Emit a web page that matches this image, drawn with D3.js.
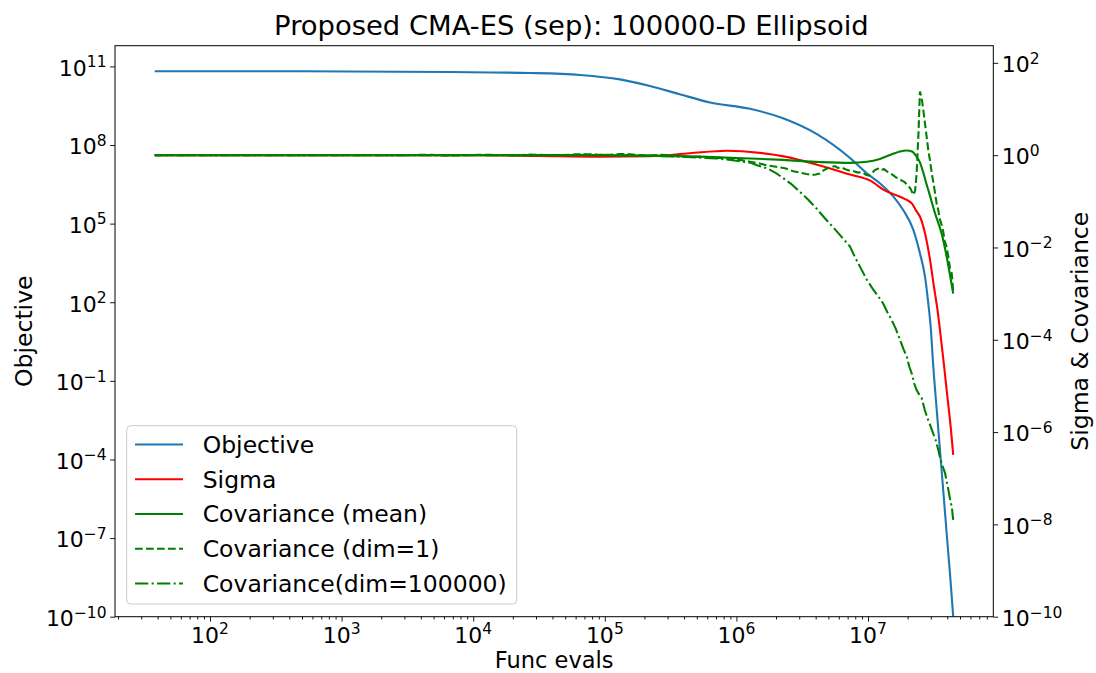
<!DOCTYPE html>
<html>
<head>
<meta charset="utf-8">
<script src="https://cdn.jsdelivr.net/npm/d3@7"></script>
<style>
  html, body { margin: 0; padding: 0; background: #fff; }
  svg { display: block; font-family: "DejaVu Sans", sans-serif; }
</style>
</head>
<body>
<svg id="chart" width="1096" height="673"></svg>
<script>
// ---- data: [function evaluations, value] ----
const objective = [
  [38, 6.5e10], [480, 6.5e10], [6.7e3, 6.1e10], [2.7e4, 5.6e10], [6.5e4, 4.7e10],
  [1.3e5, 3.2e10], [2.2e5, 1.8e10], [3.7e5, 8.7e9], [6.3e5, 4.2e9], [1.27e6, 2.4e9],
  [2.26e6, 1.05e9], [4.09e6, 2.6e8], [7.3e6, 3.2e7], [9.8e6, 8.3e6], [1.23e7, 3.5e6],
  [1.56e7, 1.07e6], [1.85e7, 3.3e5], [2.21e7, 5.8e4], [2.48e7, 7.4e3], [2.71e7, 950],
  [2.87e7, 91], [3.0e7, 10], [3.13e7, 0.38], [3.32e7, 8.9e-3], [3.52e7, 2.4e-4],
  [3.73e7, 6.5e-6], [3.96e7, 1.5e-7], [4.2e7, 4.1e-9], [4.44e7, 1e-10]
];

const sigma = [
  [38, 1.0], [1.13e4, 1.0], [3.2e4, 0.96], [9.2e4, 0.93], [2.2e5, 0.95], [4.4e5, 1.1],
  [8.5e5, 1.25], [1.51e6, 1.12], [2.34e6, 0.93], [4.1e6, 0.62], [7.3e6, 0.38],
  [1.04e7, 0.28], [1.35e7, 0.17], [1.75e7, 0.126], [1.97e7, 0.107], [2.16e7, 0.089],
  [2.32e7, 0.063], [2.48e7, 0.047], [2.71e7, 0.0204], [2.96e7, 5.4e-3], [3.17e7, 1.41e-3],
  [3.37e7, 4.5e-4], [3.57e7, 1.17e-4], [3.78e7, 2.8e-5], [3.96e7, 8.1e-6],
  [4.27e7, 1.12e-6], [4.44e7, 3.2e-7]
];

const covMean = [
  [38, 1.0], [9.2e4, 1.0], [2.2e5, 0.98], [5.3e5, 0.93], [1.27e6, 0.85], [2.26e6, 0.79],
  [4.3e6, 0.71], [7.3e6, 0.68], [9.8e6, 0.72], [1.23e7, 0.83], [1.55e7, 1.07],
  [1.75e7, 1.2], [1.97e7, 1.26], [2.16e7, 1.2], [2.34e7, 0.93], [2.48e7, 0.7],
  [2.63e7, 0.42], [2.79e7, 0.23], [2.9e7, 0.16], [3.23e7, 0.055], [3.65e7, 0.0186],
  [3.96e7, 6.3e-3], [4.2e7, 2.5e-3], [4.44e7, 1.0e-3]
];

const covDim1 = [
  [38, 1.0], [2780, 1.0], [3600, 1.01], [4700, 1.02], [6000, 0.99], [7900, 0.99],
  [1.1e4, 1.02], [1.6e4, 1.01], [2.1e4, 0.99], [2.7e4, 1.03], [3.5e4, 1.01], [4.57e4, 1.0],
  [6.0e4, 1.04], [7.7e4, 1.05], [9.0e4, 1.01], [1.1e5, 1.02], [1.3e5, 1.06], [1.55e5, 1.05],
  [1.85e5, 1.0], [2.2e5, 0.98], [2.6e5, 1.02], [3.1e5, 1.0], [3.7e5, 0.95], [4.4e5, 0.91],
  [5.3e5, 0.92], [6.3e5, 0.87], [7.5e5, 0.88], [8.9e5, 0.83], [1.06e6, 0.79], [1.27e6, 0.72],
  [1.5e6, 0.66], [1.71e6, 0.6], [2.0e6, 0.56], [2.34e6, 0.52], [2.7e6, 0.45], [3.04e6, 0.42],
  [3.4e6, 0.39], [3.75e6, 0.37], [4.0e6, 0.38], [4.3e6, 0.4], [4.6e6, 0.47], [4.9e6, 0.52],
  [5.2e6, 0.55], [5.6e6, 0.58], [5.9e6, 0.53], [6.3e6, 0.54], [6.8e6, 0.49], [7.3e6, 0.46],
  [7.8e6, 0.45], [8.4e6, 0.42], [9.0e6, 0.43], [9.7e6, 0.37], [1.02e7, 0.36], [1.07e7, 0.4],
  [1.12e7, 0.47], [1.19e7, 0.51], [1.25e7, 0.47], [1.32e7, 0.5], [1.4e7, 0.44], [1.47e7, 0.41],
  [1.55e7, 0.37], [1.63e7, 0.33], [1.72e7, 0.31], [1.81e7, 0.28], [1.9e7, 0.26], [2.01e7, 0.22],
  [2.1e7, 0.19], [2.21e7, 0.138], [2.28e7, 0.17], [2.34e7, 0.4], [2.42e7, 3.2], [2.48e7, 24],
  [2.52e7, 20], [2.57e7, 15.8], [2.71e7, 4.9], [2.87e7, 1.29], [2.96e7, 0.75], [3.05e7, 0.41],
  [3.15e7, 0.24], [3.22e7, 0.16], [3.32e7, 0.091], [3.4e7, 0.07], [3.52e7, 0.04],
  [3.6e7, 0.033], [3.73e7, 0.022], [3.82e7, 0.014], [3.92e7, 0.0112], [4.0e7, 0.0085],
  [4.08e7, 6.3e-3], [4.2e7, 3.5e-3], [4.3e7, 3.2e-3], [4.38e7, 1.9e-3], [4.44e7, 1.0e-3]
];

const covDimLast = [
  [38, 1.0], [1.6e4, 1.0], [5e4, 1.01], [9.2e4, 1.02], [1.85e5, 0.98], [3.7e5, 0.93],
  [7.1e5, 0.85], [1.0e6, 0.76], [1.27e6, 0.69], [1.45e6, 0.6], [1.71e6, 0.52], [2.0e6, 0.41],
  [2.26e6, 0.32], [2.6e6, 0.24], [3.04e6, 0.16], [3.5e6, 0.11], [4.1e6, 0.068], [4.7e6, 0.043],
  [5.4e6, 0.028], [6.3e6, 0.017], [7.3e6, 0.0105], [8.0e6, 6.0e-3], [8.7e6, 3.8e-3],
  [9.8e6, 2.0e-3], [1.1e7, 1.2e-3], [1.2e7, 8.6e-4], [1.3e7, 6.2e-4], [1.4e7, 4.0e-4],
  [1.51e7, 2.7e-4], [1.63e7, 1.7e-4], [1.75e7, 1.0e-4], [1.86e7, 6.3e-5], [1.97e7, 4.3e-5],
  [2.06e7, 2.6e-5], [2.15e7, 1.86e-5], [2.25e7, 1.1e-5], [2.34e7, 8.1e-6], [2.45e7, 6.5e-6],
  [2.56e7, 5.4e-6], [2.7e7, 3.0e-6], [2.87e7, 1.8e-6], [3.0e7, 1.3e-6], [3.13e7, 9.3e-7],
  [3.28e7, 6.5e-7], [3.42e7, 4.1e-7], [3.52e7, 2.9e-7], [3.63e7, 2.1e-7], [3.75e7, 1.6e-7],
  [3.85e7, 1.29e-7], [3.97e7, 8.2e-8], [4.08e7, 5.6e-8], [4.2e7, 3.5e-8], [4.33e7, 2.4e-8],
  [4.44e7, 1.26e-8]
];

const xTickExponents = [2, 3, 4, 5, 6, 7];
const leftTickExponents = [-10, -7, -4, -1, 2, 5, 8, 11];
const rightTickExponents = [-10, -8, -6, -4, -2, 0, 2];

const legendLabels = ["Objective", "Sigma", "Covariance (mean)", "Covariance (dim=1)", "Covariance(dim=100000)"];
const titleText = "Proposed CMA-ES (sep): 100000-D Ellipsoid";

// ---- layout ----
const svg = d3.select("#chart");
const box = { left: 115, right: 993.3, top: 45.7, bottom: 616.7 };

const x = d3.scaleLog().domain([Math.pow(10, 1.278), Math.pow(10, 7.952)]).range([box.left, box.right]);
const yL = d3.scaleLog().domain([1e-10, Math.pow(10, 11.79)]).range([box.bottom, box.top]);
const yR = d3.scaleLog().domain([1e-10, Math.pow(10, 2.372)]).range([box.bottom, box.top]);

const BLUE = "#1f77b4", RED = "#ff0000", GREEN = "#008000";
const LW = 2.1;
const DASH = "7.7,3.3";
const DASHDOT = "13.3,3.3,2.1,3.3";

svg.append("defs").append("clipPath").attr("id", "plotclip")
  .append("rect").attr("x", box.left).attr("y", box.top)
  .attr("width", box.right - box.left).attr("height", box.bottom - box.top);

// ---- series ----
const plot = svg.append("g").attr("clip-path", "url(#plotclip)");
const smoothLine = (ys) => d3.line().x(d => x(d[0])).y(d => ys(d[1])).curve(d3.curveMonotoneX);
const rawLine = (ys) => d3.line().x(d => x(d[0])).y(d => ys(d[1]));

plot.append("path").datum(objective).attr("d", smoothLine(yL))
  .attr("fill", "none").attr("stroke", BLUE).attr("stroke-width", LW);
plot.append("path").datum(sigma).attr("d", smoothLine(yR))
  .attr("fill", "none").attr("stroke", RED).attr("stroke-width", LW);
plot.append("path").datum(covMean).attr("d", smoothLine(yR))
  .attr("fill", "none").attr("stroke", GREEN).attr("stroke-width", LW);
plot.append("path").datum(covDim1).attr("d", rawLine(yR))
  .attr("fill", "none").attr("stroke", GREEN).attr("stroke-width", LW)
  .attr("stroke-dasharray", DASH);
plot.append("path").datum(covDimLast).attr("d", rawLine(yR))
  .attr("fill", "none").attr("stroke", GREEN).attr("stroke-width", LW)
  .attr("stroke-dasharray", DASHDOT);

// ---- axes ----
const TICK_FS = 22, SUP_FS = 15.5;
const fmtExp = e => (e < 0 ? "\u2212" + Math.abs(e) : String(e));

function powerLabel(g, tx, ty, e, anchor) {
  const t = g.append("text").attr("x", tx).attr("y", ty)
    .attr("text-anchor", anchor).attr("font-size", TICK_FS).attr("fill", "#000");
  t.append("tspan").text("10");
  t.append("tspan").attr("font-size", SUP_FS).attr("dy", -8.5).text(fmtExp(e));
}

const xMinor = [];
for (let d = 1; d <= 7; d++) for (let m = 2; m <= 9; m++) {
  const v = m * Math.pow(10, d);
  if (v > x.domain()[0] && v < x.domain()[1]) xMinor.push(v);
}

const gx = svg.append("g").attr("transform", `translate(0,${box.bottom})`);
gx.call(d3.axisBottom(x).tickValues(xMinor).tickSize(2.8).tickFormat(""));
gx.append("g").call(d3.axisBottom(x).tickValues(xTickExponents.map(e => Math.pow(10, e))).tickSize(4.9).tickFormat(""));
gx.selectAll(".domain").remove();
gx.selectAll("line").attr("stroke", "#000").attr("stroke-width", 0.9);
xTickExponents.forEach(e => powerLabel(svg, x(Math.pow(10, e)), box.bottom + 26, e, "middle"));

const gl = svg.append("g").attr("transform", `translate(${box.left},0)`);
gl.call(d3.axisLeft(yL).tickValues(leftTickExponents.map(e => Math.pow(10, e))).tickSize(4.9).tickFormat(""));
gl.selectAll(".domain").remove();
gl.selectAll("line").attr("stroke", "#000").attr("stroke-width", 0.9);
leftTickExponents.forEach(e => powerLabel(svg, box.left - 8.4, yL(Math.pow(10, e)) + 9.3, e, "end"));

const gr = svg.append("g").attr("transform", `translate(${box.right},0)`);
gr.call(d3.axisRight(yR).tickValues(rightTickExponents.map(e => Math.pow(10, e))).tickSize(4.9).tickFormat(""));
gr.selectAll(".domain").remove();
gr.selectAll("line").attr("stroke", "#000").attr("stroke-width", 0.9);
rightTickExponents.forEach(e => powerLabel(svg, box.right + 8.4, yR(Math.pow(10, e)) + 9.3, e, "start"));

// frame
svg.append("rect").attr("x", box.left).attr("y", box.top)
  .attr("width", box.right - box.left).attr("height", box.bottom - box.top)
  .attr("fill", "none").attr("stroke", "#000").attr("stroke-width", 1);

// ---- labels ----
const LABEL_FS = 23.5;
svg.append("text").attr("x", 571.4).attr("y", 35).attr("text-anchor", "middle")
  .attr("font-size", 27.4).text(titleText);
svg.append("text").attr("x", (box.left + box.right) / 2).attr("y", 668)
  .attr("text-anchor", "middle").attr("font-size", 22.5).text("Func evals");
svg.append("text").attr("transform", `translate(32,${(box.top + box.bottom) / 2}) rotate(-90)`)
  .attr("text-anchor", "middle").attr("font-size", LABEL_FS).text("Objective");
svg.append("text").attr("transform", `translate(1088,${(box.top + box.bottom) / 2}) rotate(-90)`)
  .attr("text-anchor", "middle").attr("font-size", LABEL_FS).text("Sigma & Covariance");

// ---- legend ----
const legendStyles = [
  { color: BLUE, dash: null },
  { color: RED, dash: null },
  { color: GREEN, dash: null },
  { color: GREEN, dash: DASH },
  { color: GREEN, dash: DASHDOT }
];
const lg = svg.append("g");
lg.append("rect").attr("x", 126.7).attr("y", 425.7).attr("width", 390).attr("height", 178.3)
  .attr("rx", 4).attr("fill", "#fff").attr("fill-opacity", 0.8)
  .attr("stroke", "#cccccc").attr("stroke-width", 1);
legendLabels.forEach((lab, i) => {
  const cy = 444.5 + i * 34.75;
  const st = legendStyles[i];
  lg.append("line").attr("x1", 135).attr("x2", 183).attr("y1", cy).attr("y2", cy)
    .attr("stroke", st.color).attr("stroke-width", LW)
    .attr("stroke-dasharray", st.dash);
  lg.append("text").attr("x", 202.7).attr("y", cy + 8.3)
    .attr("font-size", LABEL_FS).text(lab);
});
</script>
</body>
</html>
